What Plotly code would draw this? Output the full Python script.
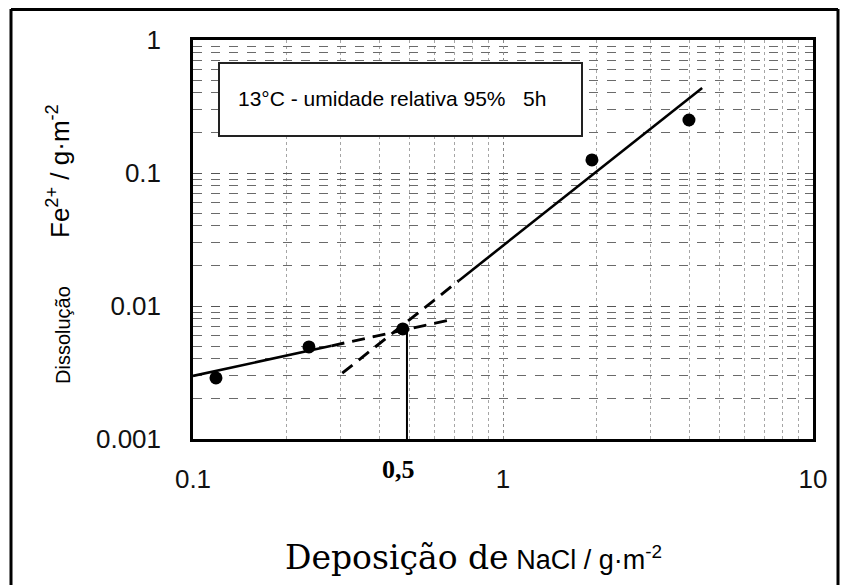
import plotly.graph_objects as go

# ---- data ----
pts_x = [0.1186, 0.2366, 0.475, 1.936, 3.98]
pts_y = [0.00288, 0.00492, 0.00672, 0.1253, 0.2503]

low_solid_x = [0.1, 0.28]
low_solid_y = [0.00298, 0.00502]
low_dash_x = [0.28, 0.674]
low_dash_y = [0.00502, 0.00785]

high_dash_x = [0.303, 0.72]
high_dash_y = [0.00313, 0.0155]
high_solid_x = [0.72, 4.39]
high_solid_y = [0.0155, 0.436]

crit_x = [0.49, 0.49]
crit_y = [0.0066, 0.001]

x_tickvals = [0.1, 1, 10]
x_ticktext = ["0.1", "1", "10"]
y_tickvals = [0.001, 0.01, 0.1, 1]
y_ticktext = ["0.001", "0.01", "0.1", "1"]

W, H = 842, 585
L, R, T, B = 193, 813, 40, 439


def px(xp):
    return (xp - L) / (R - L)


def py(yp):
    return (B - yp) / (B - T)


fig = go.Figure()
line_w = 2.6
dash_w = 2.9
fig.add_trace(go.Scatter(x=low_solid_x, y=low_solid_y, mode="lines",
                         line=dict(color="black", width=line_w)))
fig.add_trace(go.Scatter(x=low_dash_x, y=low_dash_y, mode="lines",
                         line=dict(color="black", width=dash_w, dash="13px,8px")))
fig.add_trace(go.Scatter(x=high_dash_x, y=high_dash_y, mode="lines",
                         line=dict(color="black", width=dash_w, dash="13px,8px")))
fig.add_trace(go.Scatter(x=high_solid_x, y=high_solid_y, mode="lines",
                         line=dict(color="black", width=line_w)))
fig.add_trace(go.Scatter(x=crit_x, y=crit_y, mode="lines",
                         line=dict(color="black", width=2)))
fig.add_trace(go.Scatter(x=pts_x, y=pts_y, mode="markers",
                         marker=dict(color="black", size=13)))

tick_font = dict(family="Liberation Sans, Arial, sans-serif", size=26, color="#111")

fig.update_xaxes(type="log", range=[-1, 1], tickmode="array",
                 tickvals=x_tickvals, ticktext=x_ticktext, tickfont=tick_font,
                 ticks="", ticklabelstandoff=15,
                 showline=True, mirror=True, linecolor="black", linewidth=2.5,
                 showgrid=True, gridcolor="#8a8a8a", gridwidth=1, griddash="dot",
                 minor=dict(dtick="D1", showgrid=True, gridcolor="#a5a5a5",
                            gridwidth=1, griddash="dot"),
                 zeroline=False)
fig.update_yaxes(type="log", range=[-3, 0], tickmode="array",
                 tickvals=y_tickvals, ticktext=y_ticktext, tickfont=tick_font,
                 ticks="", ticklabelstandoff=24,
                 showline=True, mirror=True, linecolor="black", linewidth=2.5,
                 showgrid=True, gridcolor="#555555", gridwidth=1.2, griddash="dash",
                 minor=dict(dtick="D1", showgrid=True, gridcolor="#6a6a6a",
                            gridwidth=1.2, griddash="dash"),
                 zeroline=False)

shapes = [
    # legend text box
    dict(type="rect", xref="paper", yref="paper",
         x0=px(219), x1=px(582), y0=py(136), y1=py(63),
         line=dict(color="#222", width=2), fillcolor="white", layer="above"),
    # outer picture frame
    dict(type="line", xref="paper", yref="paper", x0=px(11), x1=px(11),
         y0=py(9), y1=py(600), line=dict(color="black", width=3)),
    dict(type="line", xref="paper", yref="paper", x0=px(11), x1=px(838),
         y0=py(9.5), y1=py(9.5), line=dict(color="black", width=3)),
    dict(type="line", xref="paper", yref="paper", x0=px(838), x1=px(838),
         y0=py(9), y1=py(600), line=dict(color="black", width=3)),
]

annotations = [
    dict(text="13°C - umidade relativa 95%\u00a0\u00a0\u00a05h", xref="paper", yref="paper",
         x=px(392), y=py(98), xanchor="center", yanchor="middle", showarrow=False,
         font=dict(family="Liberation Sans, Arial, sans-serif", size=21, color="black")),
    dict(text="<b>0,5</b>", xref="paper", yref="paper", x=px(398), y=py(469),
         xanchor="center", yanchor="middle", showarrow=False,
         font=dict(family="Liberation Serif, Times New Roman, serif", size=26, color="black")),
    dict(text="Fe<sup>2+</sup> / g·m<sup>-2</sup>", xref="paper", yref="paper",
         x=px(58), y=py(171), xanchor="center", yanchor="middle", showarrow=False,
         textangle=-90,
         font=dict(family="Liberation Sans, Arial, sans-serif", size=26, color="black")),
    dict(text="Dissolução", xref="paper", yref="paper",
         x=px(63), y=py(335), xanchor="center", yanchor="middle", showarrow=False,
         textangle=-90,
         font=dict(family="Liberation Sans, Arial, sans-serif", size=20, color="black")),
    dict(text='<span style="font-family:DejaVu Serif;font-size:33px">Deposição de</span>'
              ' NaCl / g·m<sup>-2</sup>',
         xref="paper", yref="paper", x=px(473), y=py(557),
         xanchor="center", yanchor="middle", showarrow=False,
         font=dict(family="Liberation Sans, Arial, sans-serif", size=27, color="black")),
]

fig.update_layout(
    width=W, height=H,
    margin=dict(l=L, r=W - R, t=T, b=H - B),
    paper_bgcolor="white", plot_bgcolor="white",
    showlegend=False,
    shapes=shapes, annotations=annotations,
)

fig.write_html("out.html")
